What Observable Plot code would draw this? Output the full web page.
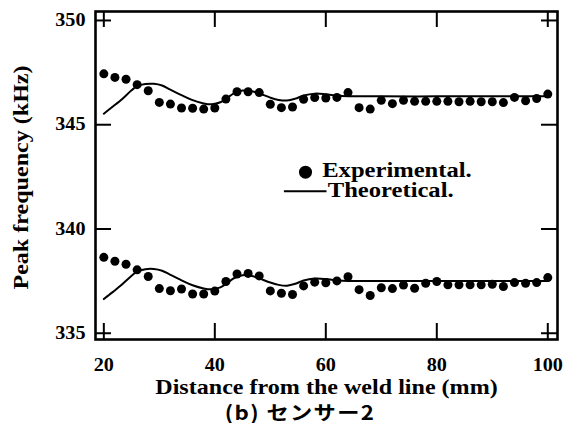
<!DOCTYPE html>
<html>
<head>
<meta charset="utf-8">
<script src="https://cdn.jsdelivr.net/npm/d3@7"></script>
<script src="https://cdn.jsdelivr.net/npm/@observablehq/plot@0.6"></script>
<style>
  html, body { margin: 0; padding: 0; background: white; }
  #chart svg { display: block; }
  #caption {
    width: 564px; height: 23px; line-height: 23px; text-align: center;
    font-family: "Noto Sans CJK JP", sans-serif; font-weight: 700; font-size: 19.5px;
    letter-spacing: 1.2px; color: black;
  }
  #caption span { display: inline-block; transform: scaleX(1.14); margin-left: 36px; }
</style>
</head>
<body>
<div id="chart"></div>
<div id="caption"><span>(b) センサー2</span></div>
<script>
// ---- data ----
const distances = [20,22,24,26,28,30,32,34,36,38,40,42,44,46,48,50,52,54,56,58,60,62,64,66,68,70,72,74,76,78,80,82,84,86,88,90,92,94,96,98,100];
const expUpper = [347.44,347.27,347.18,346.92,346.63,346.07,345.99,345.80,345.79,345.75,345.80,346.23,346.58,346.58,346.54,345.98,345.82,345.85,346.22,346.30,346.28,346.31,346.54,345.82,345.75,346.17,346.01,346.17,346.12,346.12,346.12,346.12,346.10,346.12,346.10,346.10,346.06,346.31,346.15,346.26,346.47];
const expLower = [338.64,338.45,338.31,338.04,337.72,337.14,337.04,337.12,336.88,336.88,337.02,337.48,337.84,337.87,337.75,337.03,336.92,336.86,337.27,337.45,337.42,337.51,337.71,337.09,336.81,337.18,337.14,337.31,337.16,337.40,337.48,337.32,337.32,337.32,337.32,337.35,337.24,337.43,337.40,337.43,337.67];
const theoryX = [20,21,23,25,26,27.5,29,30.5,32,34,36,38,39.5,41,42,43.5,45,46.5,48,50,51.5,53,54.5,56,58,60,62,64,70,80,90,100];
const theoryUpper = [345.53,345.74,346.16,346.65,346.85,346.95,346.96,346.88,346.68,346.42,346.18,346.02,345.98,346.08,346.24,346.52,346.64,346.62,346.50,346.30,346.19,346.16,346.25,346.40,346.49,346.46,346.40,346.37,346.36,346.36,346.36,346.36];
const theoryLower = [336.64,336.85,337.28,337.76,337.96,338.07,338.08,338.00,337.80,337.54,337.30,337.15,337.11,337.20,337.36,337.65,337.78,337.76,337.63,337.43,337.32,337.28,337.37,337.53,337.62,337.60,337.54,337.51,337.51,337.51,337.51,337.51];
const xTicks = [20,40,60,80,100];
const yTicks = [335,340,345,350];
const xLabel = "Distance from the weld line (mm)";
const yLabel = "Peak frequency (kHz)";
const legendLabels = ["Experimental.", "Theoretical."];

// ---- chart ----
const W = 564, H = 400, mL = 95, mR = 7, mT = 11, mB = 61;
const pw = W - mL - mR, ph = H - mT - mB, tick = 16;
const bold = {fontWeight: "bold", fill: "black", lineAnchor: "middle"};
const lineSymbol = {draw(ctx) { ctx.moveTo(-21.3, 0); ctx.lineTo(21.3, 0); }};

const chart = Plot.plot({
  width: W, height: H,
  marginLeft: mL, marginRight: mR, marginTop: mT, marginBottom: mB,
  x: {domain: [18.5, 101.75], axis: null},
  y: {domain: [334.7, 350.43], axis: null},
  style: {fontFamily: "'Liberation Serif', 'Times New Roman', serif", background: "white", color: "black"},
  marks: [
    // data
    Plot.line(theoryX, {x: d => d, y: (d, i) => theoryUpper[i], curve: "catmull-rom", stroke: "black", strokeWidth: 2}),
    Plot.line(theoryX, {x: d => d, y: (d, i) => theoryLower[i], curve: "catmull-rom", stroke: "black", strokeWidth: 2}),
    Plot.dot(distances, {x: d => d, y: (d, i) => expUpper[i], r: 4.5, fill: "black"}),
    Plot.dot(distances, {x: d => d, y: (d, i) => expLower[i], r: 4.5, fill: "black"}),
    // inward ticks on four sides
    Plot.tickX(xTicks, {x: d => d, insetTop: ph - tick, stroke: "black", strokeWidth: 2}),
    Plot.tickX(xTicks, {x: d => d, insetBottom: ph - tick, stroke: "black", strokeWidth: 2}),
    Plot.tickY(yTicks, {y: d => d, insetRight: pw - tick, stroke: "black", strokeWidth: 2}),
    Plot.tickY(yTicks, {y: d => d, insetLeft: pw - tick, stroke: "black", strokeWidth: 2}),
    Plot.frame({stroke: "black", strokeWidth: 2.6}),
    // tick labels
    Plot.text(xTicks, {x: d => d, text: d => String(d), frameAnchor: "bottom", textAnchor: "middle", dy: 26, fontSize: 18, ...bold}),
    Plot.text(yTicks, {y: d => d, text: d => String(d), frameAnchor: "left", textAnchor: "end", dx: -10, fontSize: 18, ...bold}),
    // axis labels
    Plot.text([xLabel], {text: d => d, frameAnchor: "bottom", textAnchor: "middle", dy: 48, fontSize: 21.5, ...bold}),
    Plot.text([yLabel], {text: d => d, frameAnchor: "left", textAnchor: "middle", dx: -74, dy: 2, rotate: -90, fontSize: 21.5, ...bold}),
    // legend
    Plot.dot([legendLabels[0]], {frameAnchor: "top-left", dx: 210, dy: 160.7, r: 6.5, fill: "black"}),
    Plot.dot([legendLabels[1]], {frameAnchor: "top-left", dx: 209.7, dy: 179.7, symbol: lineSymbol, stroke: "black", strokeWidth: 2, fill: "none"}),
    Plot.text([legendLabels[0]], {text: d => d, frameAnchor: "top-left", textAnchor: "start", dx: 226.7, dy: 159.3, fontSize: 20.5, ...bold}),
    Plot.text([legendLabels[1]], {text: d => d, frameAnchor: "top-left", textAnchor: "start", dx: 232.3, dy: 178.5, fontSize: 20.5, ...bold})
  ]
});

// the reference's type is slightly wider than Liberation Serif
chart.querySelectorAll("text").forEach(t => {
  const tr = t.getAttribute("transform") || "";
  const s = t.textContent.endsWith(".") ? 1.2 : 1.12;
  t.setAttribute("transform", tr + ` scale(${s},1)`);
});
document.getElementById("chart").appendChild(chart);
</script>
</body>
</html>
